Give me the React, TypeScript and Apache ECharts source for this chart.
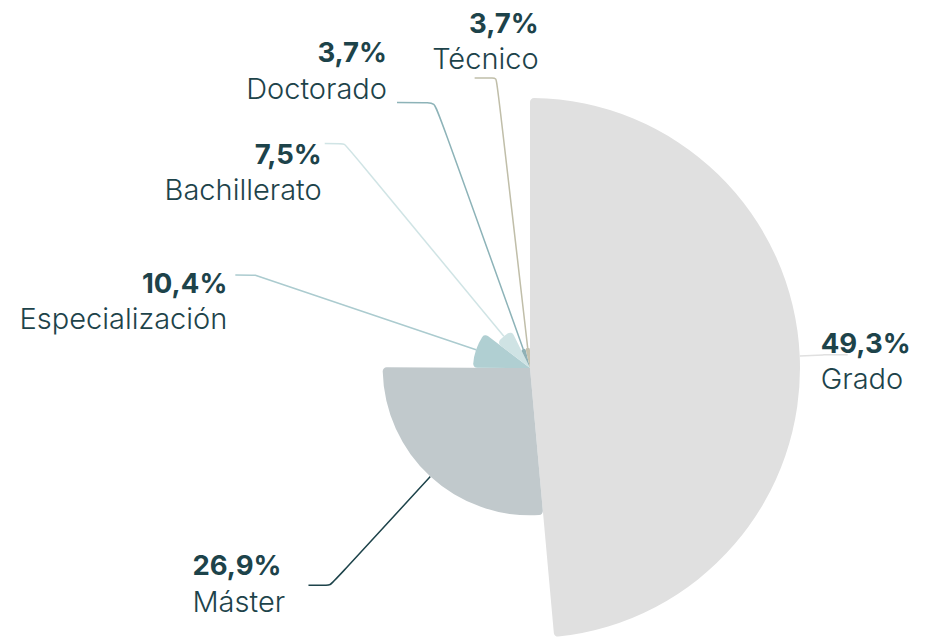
import React, { useEffect, useRef } from "react";
import * as echarts from "echarts";

const categories = ["Grado", "Máster", "Especialización", "Bachillerato", "Doctorado", "Técnico"];
const values = [49.3, 26.9, 10.4, 7.5, 3.7, 3.7];

// styles
const sliceColors = ["#e0e0e0", "#c1c9cc", "#b0cfd2", "#cfe3e4", "#8fb1b6", "#c6c3b0"];
const lineColors = ["#e0e0e0", "#1d434a", "#abcbcf", "#d0e4e5", "#8db3b8", "#c0bea9"];
const lineLen = [24, 25, 20, 21, 12, 22];
const lineLen2 = [24, 22, 20, 20, 38, 22];
const labelAlign = ["left", "left", "right", "right", "right", "right"];
const labelShift: [number, number][] = [[-27, 6], [-116, -2], [-8, 26], [-3, 28], [-10, -32], [64, -37]];

const fmt = (v: number) => v.toFixed(1).replace(".", ",") + "%";
const TEXT = "#1d434a";

export default function App() {
  const ref = useRef<HTMLDivElement>(null);
  useEffect(() => {
    if (!ref.current) return;
    const chart = echarts.init(ref.current, undefined, { renderer: "svg" });
    chart.setOption({
      animation: false,
      series: [
        {
          type: "pie",
          roseType: "radius",
          center: [530, 368],
          radius: [0, 270],
          startAngle: 90,
          clockwise: true,
          avoidLabelOverlap: false,
          itemStyle: { borderRadius: 4 },
          label: {
            show: true,
            position: "outside",
            overflow: "none",
            formatter: (p: any) => `{v|${fmt(p.value)}}\n{n|${p.name}}`,
            rich: {
              v: { fontFamily: "Inter", fontSize: 27.5, fontWeight: 700, color: TEXT, lineHeight: 36 },
              n: { fontFamily: "Inter", fontSize: 29, fontWeight: 300, color: TEXT, lineHeight: 36 },
            },
          },
          labelLine: { show: true, smooth: 0.1, lineStyle: { width: 1.5 } },
          labelLayout: (params: any) => {
            const i = params.dataIndex;
            const pts = params.labelLinePoints;
            if (!pts) return {};
            const end = pts[pts.length - 1];
            return {
              x: end[0] + labelShift[i][0],
              y: end[1] + labelShift[i][1],
              align: labelAlign[i],
              verticalAlign: "middle",
              labelLinePoints: pts,
            };
          },
          data: categories.map((name, i) => ({
            name,
            value: values[i],
            itemStyle: { color: sliceColors[i] },
            labelLine: { length: lineLen[i], length2: lineLen2[i], lineStyle: { color: lineColors[i] } },
          })),
        },
      ],
    });
    return () => chart.dispose();
  }, []);
  return <div ref={ref} style={{ width: 926, height: 646, margin: "-8px 0 0 -8px" }} />;
}
